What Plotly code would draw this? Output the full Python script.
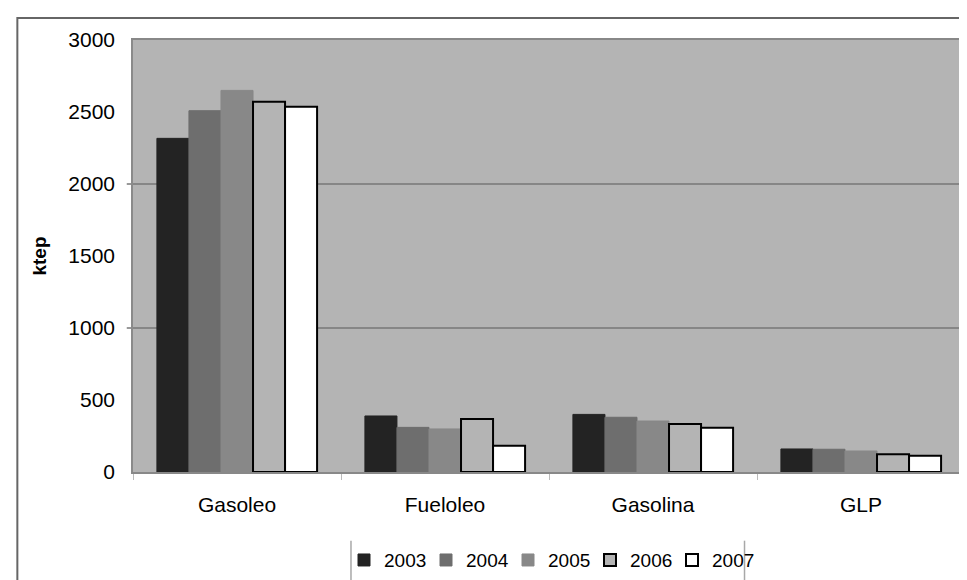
import plotly.graph_objects as go

# Data (ktep)
categories = ["Gasoleo", "Fueloleo", "Gasolina", "GLP"]
years = ["2003", "2004", "2005", "2006", "2007"]
v2003 = [2317, 389, 400, 160]
v2004 = [2509, 310, 380, 158]
v2005 = [2650, 299, 354, 146]
v2006 = [2572, 368, 333, 123]
v2007 = [2537, 183, 308, 113]
y_labels = [0, 500, 1000, 1500, 2000, 2500, 3000]
grid_vals = [1000, 2000]

series = [v2003, v2004, v2005, v2006, v2007]
fills = ["#232323", "#6e6e6e", "#888888", "#b4b4b4", "#ffffff"]
edges = ["#232323", "#6e6e6e", "#888888", "#000000", "#000000"]
edge_w = [1, 1, 1, 2, 2]

fig = go.Figure()
for yr, vals, fc, ec, w in zip(years, series, fills, edges, edge_w):
    fig.add_trace(go.Bar(
        x=categories, y=vals, name=yr,
        marker=dict(color=fc, line=dict(color=ec, width=w)),
    ))

font_main = "Liberation Sans, Arial, sans-serif"

fig.update_layout(
    width=967, height=580,
    margin=dict(l=125, r=8, t=32, b=116),
    paper_bgcolor="white",
    plot_bgcolor="#b4b4b4",
    barmode="group",
    bargap=0.23,
    bargroupgap=0,
    font=dict(family=font_main, size=21, color="black"),
    showlegend=True,
    legend=dict(
        orientation="h", x=0.5, xanchor="center", y=-0.204, yanchor="middle",
        font=dict(size=19), itemwidth=30, entrywidth=37,
        bgcolor="rgba(0,0,0,0)",
    ),
    xaxis=dict(
        showgrid=False, showline=True, linecolor="#888888", linewidth=1.5,
        mirror=True, ticks="outside", tickson="boundaries", ticklen=6,
        tickcolor="#bbbbbb", ticklabelstandoff=13,
    ),
    yaxis=dict(
        range=[0, 3000], tickvals=y_labels, ticks="",
        showgrid=False, zeroline=False, ticklabelstandoff=12,
        showline=True, linecolor="#8a8a8a", linewidth=1.5, mirror=True,
        title=dict(text="<b>ktep</b>", font=dict(size=19), standoff=17),
    ),
)

# horizontal gridlines at 1000 and 2000 (with the short tick outside the axis)
for g in grid_vals:
    fig.add_shape(type="line", xref="paper", yref="y",
                  x0=-0.0075, x1=1, y0=g, y1=g,
                  line=dict(color="#777777", width=1.5), layer="below")

# outer chart border and legend side rules
fig.add_shape(type="rect", xref="paper", yref="paper",
              x0=-0.139, x1=1.2, y0=-0.6, y1=1.051,
              line=dict(color="#666666", width=2), layer="below")
for lx in [0.262, 0.735]:
    fig.add_shape(type="line", xref="paper", yref="paper",
                  x0=lx, x1=lx, y0=-0.159, y1=-0.250,
                  line=dict(color="#a8a8a8", width=1.5))

fig.write_html("out.html")
